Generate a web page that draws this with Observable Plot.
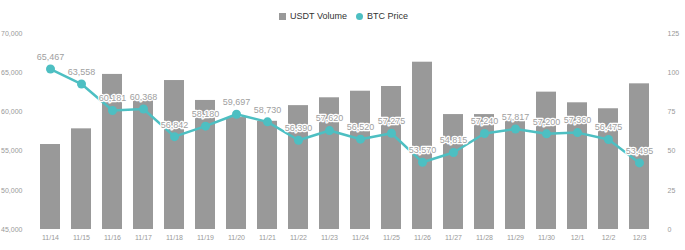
<!DOCTYPE html>
<html>
<head>
<meta charset="utf-8">
<script src="https://cdn.jsdelivr.net/npm/d3@7"></script>
<script src="https://cdn.jsdelivr.net/npm/@observablehq/plot@0.6"></script>
<style>
  html, body { margin: 0; padding: 0; background: #fff; }
  body { width: 685px; height: 250px; overflow: hidden; font-family: "Liberation Sans", Arial, sans-serif; }
  #legend { height: 26px; display: flex; justify-content: center; align-items: center; gap: 9px; font-size: 9px; color: #333; padding-left: 2px; box-sizing: border-box; padding-top: 6px; }
  .item { display: flex; align-items: center; gap: 4px; }
  .sq { width: 7px; height: 7px; background: #999; }
  .ci { width: 7px; height: 7px; border-radius: 50%; background: #4dbfc2; }
</style>
</head>
<body>
<div id="legend">
  <div class="item"><span class="sq"></span><span>USDT Volume</span></div>
  <div class="item"><span class="ci"></span><span>BTC Price</span></div>
</div>
<div id="chart"></div>
<script>
const dates = ["11/14","11/15","11/16","11/17","11/18","11/19","11/20","11/21","11/22","11/23","11/24","11/25","11/26","11/27","11/28","11/29","11/30","12/1","12/2","12/3"];
const usdtVolume = [54.2, 64.2, 98.9, 82.3, 95, 82.3, 71.4, 69, 79, 84, 88.2, 91.2, 106.7, 73.3, 73.3, 70.6, 87.6, 80.8, 77, 92.9];
const btcPrice = [65467, 63558, 60181, 60368, 56842, 58180, 59697, 58730, 56390, 57620, 56520, 57275, 53570, 54815, 57240, 57817, 57200, 57360, 56475, 53495];
const leftTicks = [45000, 50000, 55000, 60000, 65000, 70000];
const rightTicks = [0, 25, 50, 75, 100, 125];

const leftMin = 45000, leftMax = 70000, rightMax = 125;
const toRight = v => (v - leftMin) / (leftMax - leftMin) * rightMax;
const toLeft = r => leftMin + r / rightMax * (leftMax - leftMin);

const rows = dates.map((d, i) => ({date: d, vol: usdtVolume[i], price: btcPrice[i], py: toRight(btcPrice[i])}));

const chart = Plot.plot({
  width: 685,
  height: 224,
  marginTop: 7,
  marginBottom: 21,
  marginLeft: 30,
  marginRight: 26,
  style: {fontFamily: "Liberation Sans, Arial, sans-serif", fontSize: "7px", color: "#999", background: "#fff"},
  x: {domain: dates, paddingInner: 0.36, paddingOuter: 0.18},
  y: {domain: [0, rightMax]},
  marks: [
    Plot.barY(rows, {x: "date", y: "vol", fill: "#999999"}),
    Plot.line(rows, {x: "date", y: "py", stroke: "#4dbfc2", strokeWidth: 2.5}),
    Plot.dot(rows, {x: "date", y: "py", r: 4.5, fill: "#4dbfc2"}),
    Plot.text(rows, {x: "date", y: "py", text: d => d3.format(",")(d.price), dy: -12, fill: "#a0a0a0", stroke: "white", strokeWidth: 2.5, fontSize: 9}),
    Plot.axisX({tickSize: 0, tickPadding: 6, fill: "#999", label: null}),
    Plot.axisY({anchor: "left", ticks: leftTicks.map(toRight), tickFormat: r => d3.format(",")(Math.round(toLeft(r))), tickSize: 0, tickPadding: 8, fill: "#999", label: null}),
    Plot.axisY({anchor: "right", ticks: rightTicks, tickFormat: d => String(d), tickSize: 0, tickPadding: 8, fill: "#999", label: null})
  ]
});
document.getElementById("chart").appendChild(chart);
</script>
</body>
</html>
